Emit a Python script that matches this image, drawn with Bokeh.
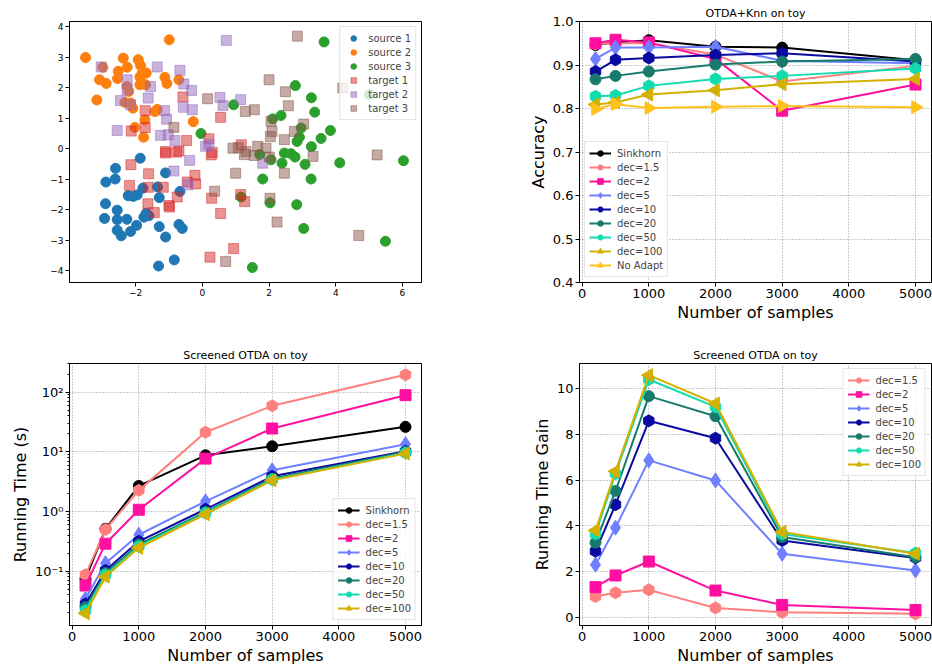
from math import pi

from bokeh.embed import file_html
from bokeh.layouts import column, row
from bokeh.models import CustomJSTickFormatter, FixedTicker
from bokeh.plotting import figure
from bokeh.resources import INLINE

FONT = "DejaVu Sans"

# ---- toy problem (top left) ----
src1_x = [-1.86, -2.60, -2.89, -2.61, -1.10, -2.90, -2.93, -2.55, -2.55, -2.26, -2.55, -2.43, -2.15, -1.97, -1.75,
          -1.60, -1.68, -2.22, -1.95, -1.78, -1.34, -1.29, -0.67, -1.29, -1.10, -0.70, -0.60, -1.31, -0.84, -2.07]
src1_y = [-0.31, -0.64, -1.09, -0.99, -0.79, -1.80, -2.28, -2.01, -2.32, -2.31, -2.67, -2.85, -2.71, -2.51, -2.24,
          -2.19, -2.11, -1.54, -1.51, -1.29, -1.25, -1.60, -1.40, -2.55, -2.89, -2.48, -2.61, -3.84, -3.64, -1.56]
src2_x = [-0.99, -3.50, -2.37, -1.92, -2.98, -2.25, -2.52, -3.08, -2.88, -2.54, -1.85, -1.80, -1.68, -1.87, -1.87,
          -1.70, -1.12, -1.06, -0.70, -2.26, -2.20, -2.32, -2.15, -3.16, -2.08, -1.35, -1.42, -1.72, -2.02, -1.76, -0.27]
src2_y = [3.57, 2.99, 2.97, 2.92, 2.67, 2.67, 2.54, 2.26, 2.14, 2.30, 2.73, 2.48, 2.48, 2.35, 2.10,
          2.10, 2.34, 2.14, 2.26, 2.04, 1.88, 1.52, 1.50, 1.60, 1.33, 1.29, 1.22, 0.95, 0.70, 0.38, 0.89]
src3_x = [3.65, 2.79, 3.27, 3.37, 2.36, 2.11, 3.84, 3.56, 2.96, 2.91, 2.84, 3.27, 5.01, 6.03, 4.12, 3.08,
          2.39, 2.78, 2.66, 2.46, 2.06, 1.72, 1.81, 3.26, 2.03, 2.83, 3.04, 5.49, 1.50, 1.16, 0.94, -0.04]
src3_y = [3.50, 2.07, 1.67, 1.20, 1.09, 0.98, 0.60, 0.34, 0.68, 0.38, 0.24, 0.07, 1.77, -0.39, -0.46, -0.51,
          -0.47, -0.27, -0.16, -0.14, -0.36, -0.19, -0.99, -0.99, -1.77, -1.83, -2.61, -3.03, -3.89, -1.58, 1.44, 0.50]
tgt1_x = [-1.71, -1.71, -2.13, -0.58, 0.55, -0.47, 0.20, -1.10, -0.70, -1.10, -0.77, 0.30, 1.17, 0.27, -2.14, -1.61,
          -2.18, -1.62, -1.17, -0.22, -0.20, -0.45, -1.63, -1.44, -1.00, -0.98, -0.75, 0.28, 0.55, 1.15, 1.27, 0.94, 0.23]
tgt1_y = [1.25, 0.70, 0.58, 1.70, 1.03, 0.27, 0.33, -0.09, -0.07, -0.14, -0.11, -0.12, 0.13, -0.20, -0.52, -0.82,
          -1.20, -1.26, -1.26, -0.87, -1.15, -1.09, -1.80, -2.09, -1.86, -1.91, -1.58, -1.62, -2.12, -1.50, -1.73,
          -3.27, -3.55]
tgt2_x = [0.72, -3.03, -1.35, -0.67, -0.55, -0.32, -2.25, -2.25, -1.55, -1.62, -2.45, -2.15, -1.13, -1.07, -0.57,
          -0.30, 0.53, 0.62, 1.15, -2.55, -1.25, -1.02, -0.82, 0.10, 0.20, -0.85, -0.38, -0.43, 1.81]
tgt2_y = [3.55, 2.68, 2.68, 2.57, 2.12, 1.91, 2.26, 1.93, 2.04, 1.66, 1.58, 1.44, 1.25, 0.97, 1.36,
          1.28, 1.68, 1.42, 1.61, 0.60, 0.44, 0.46, 0.27, 0.08, 0.15, -0.73, -0.38, -1.18, -0.47]
tgt3_x = [2.85, 2.00, 2.49, 2.58, 1.56, 1.29, 4.21, 3.04, 2.06, 2.09, 2.04, 2.76, 2.46, 1.66, 1.91, 1.31,
          0.92, 1.08, 5.24, 3.32, 2.46, 2.03, 2.24, 4.69, 1.26, 1.56, 2.01, 0.16, -0.85, 1.00, 0.37, 0.70]
tgt3_y = [3.69, 2.26, 1.87, 1.41, 1.28, 1.22, 1.99, 0.81, 0.90, 0.57, 0.40, 0.57, 0.30, 0.08, 0.02, -0.09,
          0.02, 0.04, -0.20, -0.25, -0.80, -1.62, -2.40, -2.84, -0.19, -0.22, -0.27, 1.64, 0.70, -0.80, -1.39, -3.69]

# ---- benchmark curves ----
n_samples = [200, 500, 1000, 2000, 3000, 5000]

acc = {
    "Sinkhorn": [0.946, 0.952, 0.957, 0.942, 0.940, 0.911],
    "dec=1.5": [0.948, 0.950, 0.950, 0.924, 0.862, 0.898],
    "dec=2": [0.950, 0.958, 0.952, 0.914, 0.795, 0.855],
    "dec=5": [0.914, 0.940, 0.940, 0.942, 0.910, 0.904],
    "dec=10": [0.885, 0.912, 0.916, 0.923, 0.927, 0.908],
    "dec=20": [0.867, 0.875, 0.885, 0.901, 0.908, 0.914],
    "dec=50": [0.828, 0.830, 0.852, 0.868, 0.875, 0.892],
    "dec=100": [0.809, 0.814, 0.832, 0.842, 0.856, 0.868],
    "No Adapt": [0.799, 0.810, 0.801, 0.804, 0.806, 0.803],
}
run_time = {
    "Sinkhorn": [0.0745, 0.514, 2.68, 8.75, 12.4, 26.2],
    "dec=1.5": [0.087, 0.50, 2.26, 21.3, 59.0, 195.0],
    "dec=2": [0.0575, 0.289, 1.07, 7.7, 24.6, 89.0],
    "dec=5": [0.0344, 0.136, 0.408, 1.48, 4.9, 13.4],
    "dec=10": [0.0283, 0.103, 0.316, 1.09, 3.89, 10.2],
    "dec=20": [0.0249, 0.093, 0.281, 0.98, 3.56, 9.96],
    "dec=50": [0.0219, 0.087, 0.260, 0.94, 3.42, 9.6],
    "dec=100": [0.0197, 0.081, 0.246, 0.90, 3.33, 9.33],
}
gain = {
    "dec=1.5": [0.91, 1.07, 1.20, 0.41, 0.22, 0.15],
    "dec=2": [1.32, 1.83, 2.44, 1.17, 0.54, 0.32],
    "dec=5": [2.30, 3.92, 6.87, 5.99, 2.78, 2.05],
    "dec=10": [2.89, 4.93, 8.60, 7.84, 3.36, 2.60],
    "dec=20": [3.27, 5.53, 9.68, 8.80, 3.51, 2.63],
    "dec=50": [3.65, 6.29, 10.41, 9.21, 3.65, 2.81],
    "dec=100": [3.80, 6.39, 10.60, 9.36, 3.73, 2.78],
}

# colour, marker, angle, size
STYLE = {
    "Sinkhorn": ("black", "circle", 0, 11),
    "dec=1.5": ("#ff7f7f", "hex", pi / 6, 12),
    "dec=2": ("#ff10a0", "square", 0, 11),
    "dec=5": ("#6f7fff", "diamond", 0, 15),
    "dec=10": ("#0a0aa0", "hex", pi / 6, 12),
    "dec=20": ("#177a6b", "circle", 0, 11),
    "dec=50": ("#10dcb0", "hex", pi / 6, 12),
    "dec=100": ("#d4b000", "triangle", pi / 2, 13),
    "No Adapt": ("#ffc21a", "triangle", -pi / 2, 13),
}

MINUS_FMT = CustomJSTickFormatter(code="return tick < 0 ? '\\u2212' + Math.abs(tick) : String(tick)")
ONE_DEC_FMT = CustomJSTickFormatter(code="return tick.toFixed(1)")
LOG_FMT = CustomJSTickFormatter(code="""
const sup = {'-': '\\u207b', '0': '\\u2070', '1': '\\u00b9', '2': '\\u00b2', '3': '\\u00b3'};
const e = String(Math.round(Math.log10(tick)));
return '10' + e.split('').map(c => sup[c]).join('');
""")


def style_axes(p, tick_size="13px", label_size="16px"):
    p.outline_line_color = "black"
    p.background_fill_color = "white"
    p.border_fill_color = "white"
    for ax in p.axis:
        ax.axis_line_color = "black"
        ax.major_tick_in = 0
        ax.major_tick_out = 4
        ax.minor_tick_line_color = None
        ax.major_label_text_font = FONT
        ax.major_label_text_font_size = tick_size
        ax.major_label_text_color = "black"
        ax.major_label_standoff = 2
        ax.axis_label_text_font = FONT
        ax.axis_label_text_font_size = label_size
        ax.axis_label_text_font_style = "normal"
        ax.axis_label_text_color = "black"
        ax.axis_label_standoff = 2
    p.grid.grid_line_color = "#999999"
    p.grid.grid_line_dash = "1 2"
    p.title.text_font = FONT
    p.title.text_font_size = "11px"
    p.title.text_font_style = "normal"
    p.title.text_color = "black"
    p.title.align = "center"
    p.title.standoff = 4


def style_legend(p, location, rows=14):
    lg = p.legend[0]
    lg.location = location
    lg.label_text_font = FONT
    lg.label_text_font_size = "10px"
    lg.label_height = rows
    lg.glyph_height = rows
    lg.glyph_width = 22
    lg.spacing = 0
    lg.padding = 4
    lg.margin = 5
    lg.label_standoff = 6
    lg.border_line_color = "#cccccc"
    lg.background_fill_alpha = 0.8


def draw_curves(p, series):
    for name, vals in series.items():
        color, marker, angle, size = STYLE[name]
        p.line(n_samples, vals, color=color, line_width=2, legend_label=name)
        p.scatter(n_samples, vals, marker=marker, angle=angle, size=size, color=color, legend_label=name)


def x_samples(p):
    p.xaxis.ticker = FixedTicker(ticks=[0, 1000, 2000, 3000, 4000, 5000])
    p.xaxis.axis_label = "Number of samples"


# top left: the toy data
p1 = figure(width=466, height=340, x_range=(-3.98, 6.57), y_range=(-4.38, 4.17),
            min_border_left=69, min_border_right=45, min_border_top=21, min_border_bottom=58,
            toolbar_location=None, output_backend="svg")
p1.scatter(src1_x, src1_y, size=10, color="#1f77b4", legend_label="source 1")
p1.scatter(src2_x, src2_y, size=10, color="#ff7f0e", legend_label="source 2")
p1.scatter(src3_x, src3_y, size=10, color="#2ca02c", legend_label="source 3")
p1.scatter(tgt1_x, tgt1_y, marker="square", size=10, color="#d62728", alpha=0.5, legend_label="target 1")
p1.scatter(tgt2_x, tgt2_y, marker="square", size=10, color="#9467bd", alpha=0.5, legend_label="target 2")
p1.scatter(tgt3_x, tgt3_y, marker="square", size=10, color="#8c564b", alpha=0.5, legend_label="target 3")
style_axes(p1, tick_size="9px")
p1.grid.visible = False
p1.xaxis.ticker = FixedTicker(ticks=[-4, -2, 0, 2, 4, 6])
p1.yaxis.ticker = FixedTicker(ticks=[-4, -3, -2, -1, 0, 1, 2, 3, 4])
p1.xaxis.formatter = MINUS_FMT
p1.yaxis.formatter = MINUS_FMT
style_legend(p1, "top_right")
p1.legend.glyph_width = 18

# top right: accuracy
p2 = figure(width=466, height=340, x_range=(-40, 5240), y_range=(0.4, 1.0),
            min_border_left=113, min_border_right=1, min_border_top=21, min_border_bottom=58,
            title="OTDA+Knn on toy", toolbar_location=None, output_backend="svg")
draw_curves(p2, acc)
style_axes(p2)
x_samples(p2)
p2.yaxis.ticker = FixedTicker(ticks=[0.4, 0.5, 0.6, 0.7, 0.8, 0.9, 1.0])
p2.yaxis.formatter = ONE_DEC_FMT
p2.yaxis.axis_label = "Accuracy"
style_legend(p2, "bottom_left")

# bottom left: running time (log)
p3 = figure(width=466, height=327, x_range=(-40, 5240), y_range=(0.0123, 302), y_axis_type="log",
            min_border_left=69, min_border_right=45, min_border_top=23, min_border_bottom=42,
            title="Screened OTDA on toy", toolbar_location=None, output_backend="svg")
draw_curves(p3, run_time)
style_axes(p3)
x_samples(p3)
minor = [m * 10.0 ** e for e in range(-2, 3) for m in range(2, 10)]
p3.yaxis.ticker = FixedTicker(ticks=[0.1, 1, 10, 100], minor_ticks=minor)
p3.yaxis.formatter = LOG_FMT
p3.yaxis.minor_tick_line_color = "black"
p3.yaxis.minor_tick_in = 0
p3.yaxis.minor_tick_out = 2
p3.ygrid.minor_grid_line_color = None
p3.yaxis.axis_label = "Running Time (s)"
style_legend(p3, "bottom_right")

# bottom right: running time gain
p4 = figure(width=466, height=327, x_range=(-40, 5240), y_range=(-0.36, 11.11),
            min_border_left=113, min_border_right=1, min_border_top=23, min_border_bottom=42,
            title="Screened OTDA on toy", toolbar_location=None, output_backend="svg")
draw_curves(p4, gain)
style_axes(p4)
x_samples(p4)
p4.yaxis.ticker = FixedTicker(ticks=[0, 2, 4, 6, 8, 10])
p4.yaxis.axis_label = "Running Time Gain"
style_legend(p4, "top_right")

page = column(row(p1, p2), row(p3, p4))
open("out.html", "w").write(file_html(page, INLINE))
